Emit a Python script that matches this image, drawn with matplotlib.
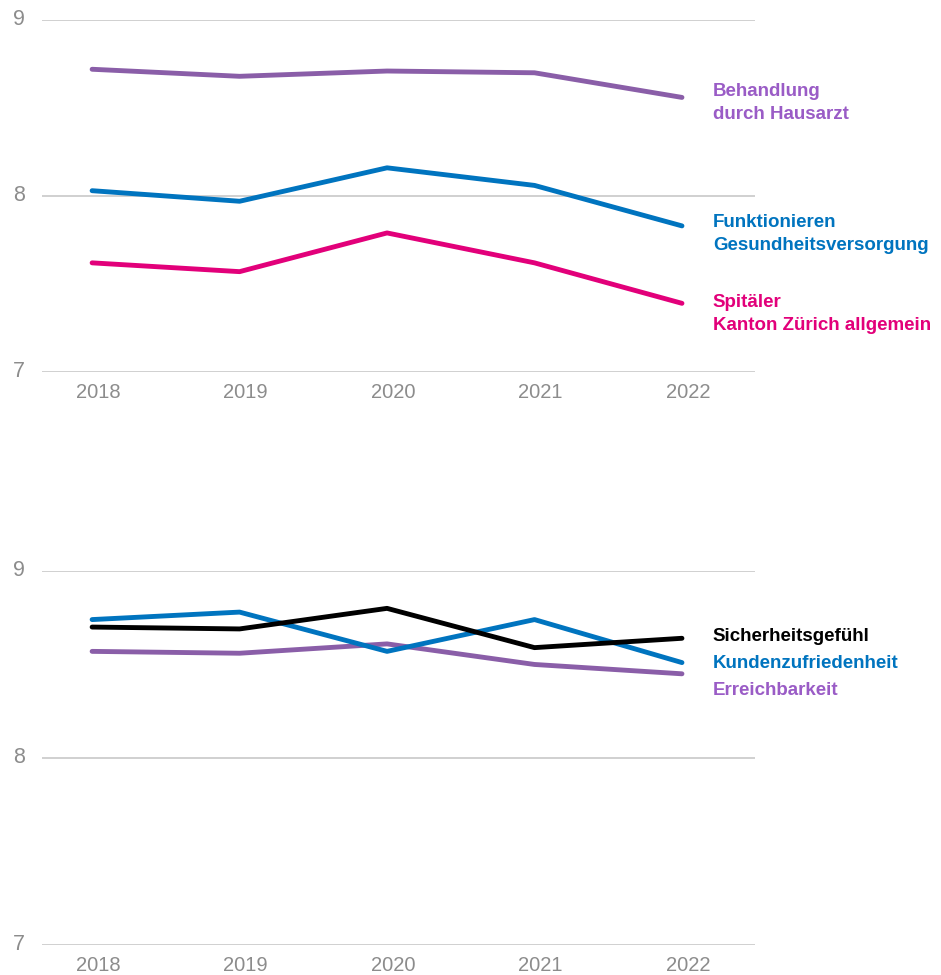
import numpy as np
import matplotlib.pyplot as plt
import matplotlib.transforms as mtransforms

plt.rcParams['font.family'] = ['Liberation Sans', 'DejaVu Sans']

years = [2018, 2019, 2020, 2021, 2022]

# oberes Diagramm
hausarzt = [8.72, 8.68, 8.71, 8.70, 8.56]
versorgung = [8.03, 7.97, 8.16, 8.06, 7.83]
spitaeler = [7.62, 7.57, 7.79, 7.62, 7.39]

# unteres Diagramm
sicherheit = [8.70, 8.69, 8.80, 8.59, 8.64]
kunden = [8.74, 8.78, 8.57, 8.74, 8.51]
erreichbarkeit = [8.57, 8.56, 8.61, 8.50, 8.45]

top_labels = ['Behandlung\ndurch Hausarzt', 'Funktionieren\nGesundheitsversorgung',
              'Spitäler\nKanton Zürich allgemein']
bottom_labels = ['Sicherheitsgefühl', 'Kundenzufriedenheit', 'Erreichbarkeit']

purple = '#8a5ea8'
purple_txt = '#9a5cc6'
blue = '#0074bf'
pink = '#e2007a'
grey = '#8c8c8c'

fig = plt.figure(figsize=(9.41, 9.75), dpi=100)
ax1 = fig.add_axes([0.0446, 0.6185, 0.7577, 0.361])
ax2 = fig.add_axes([0.0446, 0.0308, 0.7577, 0.3836])


def style(ax):
    ax.set_xlim(2017.66, 2022.495)
    ax.set_ylim(7, 9)
    ax.set_yticks([7, 8, 9])
    ax.set_xticks(years)
    ax.set_xticklabels([str(y) for y in years])
    for s in ax.spines.values():
        s.set_visible(False)
    ax.grid(axis='y', color='#c4c4c4', linewidth=1.1)
    ax.set_axisbelow(True)
    ax.tick_params(length=0, labelsize=14.5, labelcolor=grey)
    ax.tick_params(axis='y', labelsize=15.5, pad=12)
    ax.tick_params(axis='x', pad=8)
    shift = mtransforms.ScaledTranslation(6 / 100, 0, fig.dpi_scale_trans)
    for t in ax.get_xticklabels():
        t.set_transform(t.get_transform() + shift)
    for t in ax.get_yticklabels():
        t.set_verticalalignment('center')


style(ax1)
style(ax2)

lw = 3.5
kw = dict(lw=lw, solid_capstyle='round', solid_joinstyle='round')
ax1.plot(years, hausarzt, color=purple, **kw)
ax1.plot(years, versorgung, color=blue, **kw)
ax1.plot(years, spitaeler, color=pink, **kw)

ax2.plot(years, erreichbarkeit, color=purple, **kw)
ax2.plot(years, kunden, color=blue, **kw)
ax2.plot(years, sicherheit, color='black', **kw)

label_x = 2022.21
top_label_y = [8.53, 7.785, 7.33]
for txt, y, c in zip(top_labels, top_label_y, [purple_txt, blue, pink]):
    ax1.text(label_x, y, txt, color=c, fontsize=13.5, fontweight='bold',
             va='center', ha='left', linespacing=1.45, clip_on=False)

bottom_label_y = [8.65, 8.506, 8.361]
for txt, y, c in zip(bottom_labels, bottom_label_y, ['black', blue, purple_txt]):
    ax2.text(label_x, y, txt, color=c, fontsize=13.5, fontweight='bold',
             va='center', ha='left', clip_on=False)

fig.savefig('out.png', dpi=100)
